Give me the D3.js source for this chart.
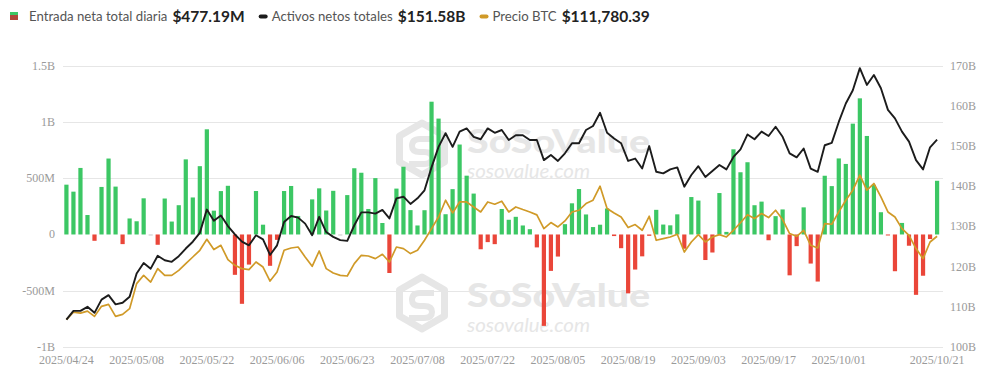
<!DOCTYPE html>
<html><head><meta charset="utf-8">
<script src="https://cdn.jsdelivr.net/npm/d3@7"></script>
<style>body{margin:0;background:#fff;}svg{display:block;}</style>
</head><body>
<svg id="c" width="1002" height="386"></svg>
<script>
// ---------------- DATA ----------------
const dates = [
"2025/04/24","2025/04/25","2025/04/28","2025/04/29","2025/04/30",
"2025/05/01","2025/05/02","2025/05/05","2025/05/06","2025/05/07","2025/05/08","2025/05/09","2025/05/12","2025/05/13","2025/05/14","2025/05/15","2025/05/16","2025/05/19","2025/05/20","2025/05/21","2025/05/22","2025/05/23","2025/05/27","2025/05/28","2025/05/29","2025/05/30",
"2025/06/02","2025/06/03","2025/06/04","2025/06/05","2025/06/06","2025/06/09","2025/06/10","2025/06/11","2025/06/12","2025/06/13","2025/06/16","2025/06/17","2025/06/18","2025/06/20","2025/06/23","2025/06/24","2025/06/25","2025/06/26","2025/06/27","2025/06/30",
"2025/07/01","2025/07/02","2025/07/03","2025/07/07","2025/07/08","2025/07/09","2025/07/10","2025/07/11","2025/07/14","2025/07/15","2025/07/16","2025/07/17","2025/07/18","2025/07/21","2025/07/22","2025/07/23","2025/07/24","2025/07/25","2025/07/28","2025/07/29","2025/07/30","2025/07/31",
"2025/08/01","2025/08/04","2025/08/05","2025/08/06","2025/08/07","2025/08/08","2025/08/11","2025/08/12","2025/08/13","2025/08/14","2025/08/15","2025/08/18","2025/08/19","2025/08/20","2025/08/21","2025/08/22","2025/08/25","2025/08/26","2025/08/27","2025/08/28","2025/08/29",
"2025/09/02","2025/09/03","2025/09/04","2025/09/05","2025/09/08","2025/09/09","2025/09/10","2025/09/11","2025/09/12","2025/09/15","2025/09/16","2025/09/17","2025/09/18","2025/09/19","2025/09/22","2025/09/23","2025/09/24","2025/09/25","2025/09/26","2025/09/29","2025/09/30",
"2025/10/01","2025/10/02","2025/10/03","2025/10/06","2025/10/07","2025/10/08","2025/10/09","2025/10/10","2025/10/13","2025/10/14","2025/10/15","2025/10/16","2025/10/17","2025/10/20","2025/10/21"
];

// Daily total net inflow (USD millions)
const dailyInflow = [
 442.7, 380.6, 591.3, 172.9, -56.2, 422.5, 674.9, 425.5, -85.6, 142.3,
 117.4, 321.4, 0, -91.4, 319.6, 114.9, 260.2, 667.5, 329.0, 607.1,
 934.8, 211.7, 385.7, 432.7, -358.6, -616.2, -267.5, 386.3, 87.0, -278.4,
 -47.8, 386.2, 431.1, 164.6, null, 312, 410, 213, 388, 0,
 350, 588.6, 548.7, 226.7, 501, 102, -342.3, 407.8, 602, 216.5,
 80, 215.7, 1180, 1030, 180, 403, 799.4, 522.6, 363.5, -131.4,
 -68, -86, 226.6, 130.7, 157, 80, 47, -114.8, -812.3, -323.5,
 -196.2, 91.6, 277, 403.9, 178, 65.9, 86.9, 230.9, -14.1, -121.8,
 -523.3, -311.7, -194.3, -12, 219, 88.2, 81.3, 179, -126.6, 332.7,
 301.3, -227, -160.2, 368.3, 23, 757, 553, 642, 260, 292,
 -51.3, 163, 222.6, -363, -103.6, 241, -258.4, -418.3, 522, 429.9,
 675.8, 627, 985, 1210, 875.6, 440.7, 197.8, -4.5, -326.5, 102.6,
 -100, -536.4, -366.6, -40.5, 477.19
];

// Total net assets (USD billions)
const totalNetAssets = [
 106.8, 109.0, 109.0, 110.0, 108.5, 111.8, 112.9, 110.6, 111.0, 112.5,
 118.3, 120.9, 119.5, 122.7, 121.6, 121.2, 122.6, 124.5, 126.2, 128.4,
 134.2, 131.4, 132.7, 130.1, 128.0, 126.2, 125.3, 127.8, 126.8, 122.9,
 125.3, 131.1, 132.6, 132.2, 130.7, 127.8, 132.4, 128.6, 127.4, 126.6,
 126.4, 130.3, 133.5, 133.5, 133.2, 134.1, 132.0, 137.0, 137.4, 135.6,
 137.0, 139.0, 144.7, 149.8, 153.2, 149.8, 153.6, 154.4, 152.3, 151.7,
 154.4, 153.3, 154.0, 151.5, 152.7, 152.7, 151.5, 151.5, 146.5, 147.8,
 146.3, 148.2, 150.7, 150.7, 154.0, 155.0, 158.3, 153.3, 151.9, 150.7,
 146.3, 146.9, 144.4, 150.0, 143.6, 143.2, 144.2, 144.7, 139.9, 142.8,
 145.0, 142.3, 143.8, 145.3, 144.2, 147.3, 149.2, 152.9, 151.7, 153.6,
 152.5, 154.8, 152.3, 148.2, 147.2, 149.4, 144.4, 143.6, 150.2, 150.8,
 156.0, 160.6, 163.9, 169.4, 165.2, 167.7, 164.4, 159.0, 156.9, 153.6,
 151.1, 146.5, 144.2, 149.7, 151.58
];

// BTC price (USD)
const btcPrice = [
 94169, 95776, 95564, 95987, 94867, 96981, 97404, 94867, 95290, 96495,
 101780, 103535, 102118, 104951, 103535, 103535, 104592, 106008, 107404, 108820,
 111146, 108968, 109877, 106854, 105649, 104951, 104740, 106347, 105290, 102330,
 104232, 108820, 109300, 109518, 107404, 105438, 108672, 104951, 104021, 103535,
 103387, 106008, 107763, 107615, 107065, 107975, 106347, 109518, 109180, 108122,
 108820, 110934, 113408, 115860, 119391, 116706, 119032, 119032, 117975, 116917,
 119032, 118545, 119180, 116917, 117975, 117425, 116917, 116300, 113408, 114676,
 113746, 115015, 116917, 117277, 118693, 119391, 122351, 117636, 116706, 115860,
 113619, 114254, 113048, 116008, 110934, 111294, 111632, 112203, 108461, 110575,
 112139, 110575, 111632, 112139, 111632, 113048, 114630, 116330, 115522, 116579,
 115733, 117277, 115311, 112351, 111780, 113048, 109877, 109306, 114465, 114317,
 116917, 119391, 121505, 124676, 121505, 122922, 120089, 116917, 115860, 113408,
 111991, 109180, 107065, 110575, 111780.39
];

const leftTicks = [-1000, -500, 0, 500, 1000, 1500];
const leftTickLabels = ["-1B", "-500M", "0", "500M", "1B", "1.5B"];
const rightTicks = [100, 110, 120, 130, 140, 150, 160, 170];
const rightTickLabels = ["100B","110B","120B","130B","140B","150B","160B","170B"];
const xTickLabels = ["2025/04/24","2025/05/08","2025/05/22","2025/06/06","2025/06/23","2025/07/08","2025/07/22","2025/08/05","2025/08/19","2025/09/03","2025/09/17","2025/10/01","2025/10/21"];

const legendLabels = ["Entrada neta total diaria", "Activos netos totales", "Precio BTC"];
const legendValues = ["$477.19M", "$151.58B", "$111,780.39"];

// ---------------- CHART ----------------
const svg = d3.select("#c");
const plotL = 63, plotR = 943, plotTop = 65.7, plotBot = 347;
const GREEN = "#3cc764", RED = "#ea4639", BLACK = "#1c1c1c", GOLD = "#d09a28";

const x = d3.scaleBand().domain(dates).range([61.5, 942]).padding(0.4);
const xc = d => x(d) + x.bandwidth() / 2;
const yL = d3.scaleLinear().domain([-1000, 1500]).range([plotBot, plotTop]);
const yR = d3.scaleLinear().domain([100, 170]).range([plotBot, plotTop]);
const yP = d3.scaleLinear().domain([88400, 147800]).range([plotBot, plotTop]);

// watermarks
function watermark(gx, gy) {
  const c = "#e6e6e6";
  const g = svg.append("g").attr("transform", `translate(${gx},${gy})`).attr("fill", c);
  const r = 26;
  const hex = d3.range(6).map(k => {
    const a = Math.PI / 3 * k - Math.PI / 2;
    return [r * Math.cos(a), r * Math.sin(a)];
  });
  g.append("path").attr("d", "M" + hex.map(p => p.join(",")).join("L") + "Z")
    .attr("fill", "none").attr("stroke", c).attr("stroke-width", 7).attr("stroke-linejoin", "round");
  g.append("path")
    .attr("d", "M9,-10 L-2,-10 Q-10,-10 -10,-3 Q-10,3 -2,3 L2,3 Q10,3 10,9 Q10,15 2,15 L-10,15")
    .attr("fill", "none").attr("stroke", c).attr("stroke-width", 6).attr("stroke-linecap", "square");
  g.append("text").attr("x", 45).attr("y", 4).attr("font-family", "Lato").attr("font-weight", 900)
    .attr("font-size", 33).attr("textLength", 183).attr("lengthAdjust", "spacingAndGlyphs").text("SoSoValue");
  g.append("text").attr("x", 45).attr("y", 29).attr("font-family", "Lato").attr("font-style", "italic")
    .attr("font-size", 19).attr("textLength", 123).attr("lengthAdjust", "spacingAndGlyphs").text("sosovalue.com");
}
watermark(422, 149);
watermark(422, 303);

// gridlines
svg.append("g").selectAll("line").data(leftTicks.filter(t => t !== 0)).join("line")
  .attr("x1", plotL).attr("x2", plotR)
  .attr("y1", d => Math.round(yL(d)) + 0.5).attr("y2", d => Math.round(yL(d)) + 0.5)
  .attr("stroke", "#e6e6e6").attr("stroke-width", 1);

// axis labels
const axisFont = "Liberation Serif";
svg.append("g").selectAll("text").data(leftTicks).join("text")
  .attr("x", 55).attr("y", d => yL(d) + 4).attr("text-anchor", "end")
  .attr("font-family", axisFont).attr("font-size", 12).attr("fill", "#9a9a9a")
  .text((d, i) => leftTickLabels[i]);
svg.append("g").selectAll("text").data(rightTicks).join("text")
  .attr("x", 950).attr("y", d => yR(d) + 4).attr("text-anchor", "start")
  .attr("font-family", axisFont).attr("font-size", 12).attr("fill", "#9a9a9a")
  .text((d, i) => rightTickLabels[i]);
svg.append("g").selectAll("text").data(xTickLabels).join("text")
  .attr("x", d => xc(d)).attr("y", 364).attr("text-anchor", "middle")
  .attr("font-family", axisFont).attr("font-size", 12).attr("fill", "#9a9a9a")
  .text(d => d);

// bars
const barData = dates.map((d, i) => ({d, v: dailyInflow[i]})).filter(o => o.v !== null);
svg.append("g").selectAll("rect").data(barData).join("rect")
  .attr("x", o => x(o.d))
  .attr("width", x.bandwidth())
  .attr("y", o => o.v > 0 ? yL(o.v) : yL(0))
  .attr("height", o => Math.max(1, Math.abs(yL(o.v) - yL(0))))
  .attr("fill", o => o.v > 0 ? GREEN : (o.v < 0 ? RED : "#c8c8c8"));

// lines
const priceLine = d3.line().x((v, i) => xc(dates[i])).y(v => yP(v));
svg.append("path").attr("d", priceLine(btcPrice)).attr("fill", "none")
  .attr("stroke", GOLD).attr("stroke-width", 1.7).attr("stroke-linejoin", "round");
const assetLine = d3.line().x((v, i) => xc(dates[i])).y(v => yR(v));
svg.append("path").attr("d", assetLine(totalNetAssets)).attr("fill", "none")
  .attr("stroke", BLACK).attr("stroke-width", 1.9).attr("stroke-linejoin", "round");

// legend (laid out sequentially)
const lg = svg.append("g");
lg.append("rect").attr("x", 10).attr("y", 12).attr("width", 8).attr("height", 3).attr("fill", GREEN);
lg.append("rect").attr("x", 10).attr("y", 15).attr("width", 8).attr("height", 5).attr("fill", "#b0473a");
const markCol = [null, BLACK, GOLD];
let cx = 29;
legendLabels.forEach((lab, k) => {
  if (markCol[k]) {
    lg.append("rect").attr("x", cx).attr("y", 14.5).attr("width", 9).attr("height", 4)
      .attr("rx", 2).attr("fill", markCol[k]);
    cx += 13;
  }
  const t1 = lg.append("text").attr("x", cx).attr("y", 21).attr("font-family", "Lato")
    .attr("font-size", 13.2).attr("fill", "#555").text(lab);
  cx += t1.node().getComputedTextLength() + 5;
  const t2 = lg.append("text").attr("x", cx).attr("y", 21.5).attr("font-family", "Lato")
    .attr("font-weight", 700).attr("font-size", 15.5).attr("fill", "#222").text(legendValues[k]);
  cx += t2.node().getComputedTextLength() + 14;
});
</script>
</body></html>
